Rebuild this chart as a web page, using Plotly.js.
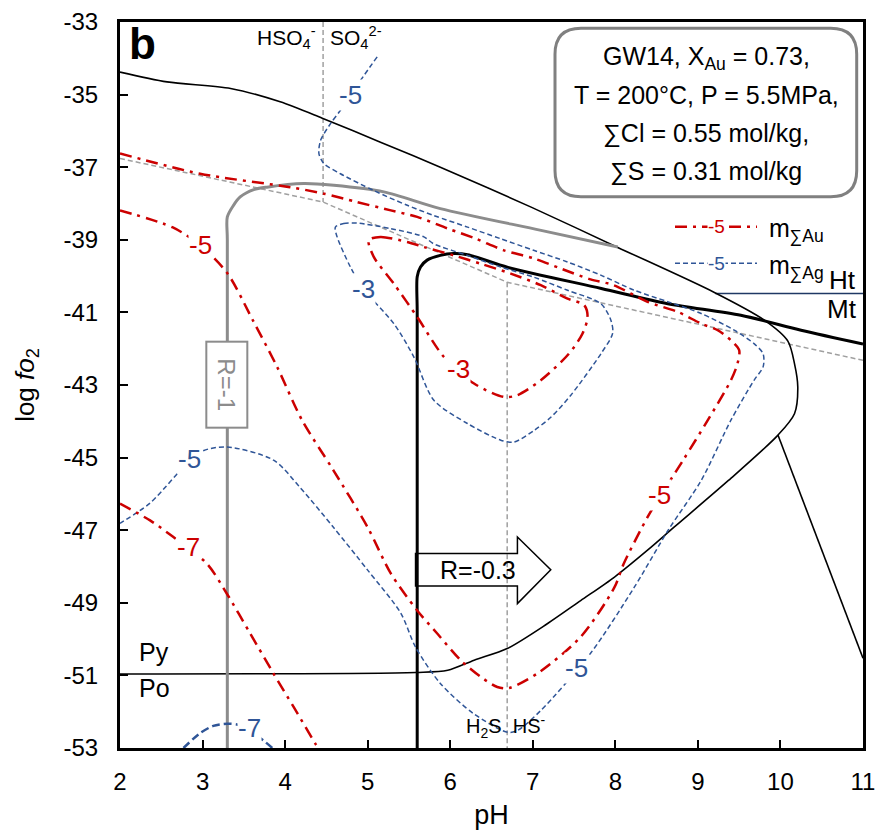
<!DOCTYPE html>
<html><head><meta charset="utf-8">
<script src="https://cdn.plot.ly/plotly-3.0.1.min.js"></script>
<style>html,body{margin:0;padding:0;background:#fff;}#chart{width:878px;height:837px;}</style>
</head><body><div id="chart"></div>
<script>
// ---- Sulfur-species boundaries (grey dashed)
const sulfBoundPH  = [2.0, 4.46, 6.69, 11.0];
const sulfBoundFO2 = [-36.76, -37.96, -40.17, -42.32];
const hso4PH  = [4.46, 4.46];
const hso4FO2 = [-33, -37.96];
const h2sPH   = [6.69, 6.69];
const h2sFO2  = [-40.17, -53];

// ---- Hematite / magnetite boundary
const htmtPH  = [9.21, 11.0];
const htmtFO2 = [-40.48, -40.48];

// ---- Mineral stability boundary (black thin, incl. Py/Po)
const minPH  = [2.0, 2.57, 3.34, 3.94, 4.45, 5.155, 5.88, 6.98, 8.03, 9.20, 9.81, 10.09, 10.17, 10.21, 10.17, 9.97, 9.37, 8.715, 8.39, 7.99, 7.58, 7.18, 6.69, 6.29, 5.97, 5.58, 2.0];
const minFO2 = [-34.38, -34.65, -34.83, -35.20, -35.65, -36.31, -37.00, -38.10, -39.21, -40.45, -41.22, -41.79, -42.41, -43.05, -43.79, -44.38, -45.63, -46.91, -47.55, -48.29, -48.94, -49.57, -50.26, -50.58, -50.86, -50.92, -50.96];
const min2PH  = [9.97, 11.0];
const min2FO2 = [-44.38, -50.53];

// ---- R = -1 (grey thick)
const r1PH  = [3.3, 3.3, 3.3, 3.375, 3.456, 3.62, 3.78, 4.225, 4.59, 5.195, 5.88, 7.10, 8.03];
const r1FO2 = [-53, -39.0, -38.37, -38.05, -37.82, -37.62, -37.55, -37.45, -37.50, -37.68, -38.14, -38.74, -39.20];

// ---- R = -0.3 (black thick)
const r03PH  = [5.60, 5.60, 5.60, 5.64, 5.72, 5.88, 6.04, 6.21, 6.70, 7.83, 8.635, 9.52, 10.25, 11.0];
const r03FO2 = [-53, -41.0, -40.02, -39.75, -39.56, -39.43, -39.38, -39.41, -39.76, -40.34, -40.76, -41.08, -41.49, -41.87];

// ---- log m(ΣAu) contours (red dash-dot)
const au5PH  = [2.0, 2.97, 4.06, 4.47, 4.87, 5.28, 5.60, 5.97, 6.31, 6.65, 7.01, 7.36, 7.70, 7.98, 8.39, 8.76, 9.04, 9.24, 9.40, 9.50, 9.48, 9.40, 9.12, 8.83, 8.55, 8.39, 8.10, 7.99, 7.58, 7.06, 6.71, 6.57, 6.37, 6.13, 5.84, 5.60, 5.28, 5.00, 4.585, 4.205, 3.905, 3.61, 3.30, 2.97, 2.64, 2.0];
const au5FO2 = [-36.62, -37.18, -37.55, -37.73, -37.96, -38.19, -38.37, -38.69, -38.97, -39.29, -39.51, -39.81, -40.09, -40.25, -40.71, -40.99, -41.31, -41.49, -41.77, -42.04, -42.41, -42.87, -43.97, -45.04, -46.04, -46.64, -47.93, -48.57, -49.94, -50.94, -51.35, -51.32, -51.04, -50.59, -49.84, -49.21, -48.19, -46.92, -45.35, -43.97, -42.51, -41.22, -39.92, -39.15, -38.66, -38.19];
const au3PH  = [5.013, 5.155, 5.479, 5.681, 6.045, 6.369, 6.733, 7.097, 7.421, 7.623, 7.664, 7.603, 7.437, 7.097, 6.814, 6.652, 6.288, 5.924, 5.601, 5.317, 5.074, 5.013];
const au3FO2 = [-39.01, -38.92, -39.06, -39.20, -39.43, -39.66, -39.93, -40.25, -40.62, -40.80, -41.13, -41.58, -42.14, -42.87, -43.28, -43.33, -42.96, -42.23, -41.13, -40.21, -39.47, -39.01];
const au7PH  = [2.0, 2.364, 2.647, 3.052, 3.295, 3.578, 3.86, 4.103, 4.366, 4.40];
const au7FO2 = [-46.27, -46.73, -47.19, -47.92, -48.75, -49.85, -50.95, -51.87, -52.88, -53.0];

// ---- log m(ΣAg) contours (blue dashed)
const ag5PH  = [5.115, 4.83, 4.67, 4.55, 4.43, 4.41, 4.47, 4.67, 5.07, 5.48, 5.80, 6.21, 6.61, 7.01, 7.42, 7.83, 8.23, 8.64, 9.04, 9.44, 9.68, 9.79, 9.79, 9.68, 9.40, 9.04, 8.64, 8.23, 7.70, 7.10, 6.82, 6.70, 6.28, 5.88, 5.58, 5.40, 5.00, 4.585, 4.18, 3.86, 3.30, 2.97, 2.36, 2.0];
const ag5FO2 = [-33.96, -34.88, -35.43, -35.80, -36.26, -36.63, -36.90, -37.18, -37.64, -38.05, -38.33, -38.65, -38.97, -39.29, -39.61, -39.98, -40.39, -40.71, -41.03, -41.49, -41.86, -42.14, -42.50, -42.87, -43.97, -45.63, -47.00, -48.57, -50.39, -51.96, -52.51, -52.57, -52.05, -51.22, -50.22, -49.28, -48.10, -46.92, -45.82, -45.07, -44.71, -44.85, -46.26, -46.81];
const ag3PH  = [4.609, 4.710, 4.873, 5.277, 5.681, 5.799, 6.208, 6.612, 7.012, 7.421, 7.825, 7.947, 7.967, 7.825, 7.461, 7.218, 7.016, 6.773, 6.612, 6.208, 5.802, 5.56, 5.317, 4.949, 4.791, 4.63, 4.609];
const ag3FO2 = [-38.65, -38.55, -38.54, -38.69, -38.92, -39.11, -39.43, -39.75, -40.03, -40.39, -40.76, -41.22, -41.58, -42.14, -43.28, -43.89, -44.25, -44.57, -44.52, -44.06, -43.42, -42.23, -41.31, -40.36, -39.75, -38.92, -38.65];
const ag7PH  = [2.769, 2.971, 3.13, 3.299, 3.45, 3.735, 3.845];
const ag7FO2 = [-53.0, -52.59, -52.39, -52.33, -52.37, -52.79, -53.0];

// ---- contour labels
const labelText = ['-5', '-5', '-3', '-7', '-5', '-5', '-5', '-3', '-7'];
const labelPH   = [2.97, 8.54, 6.10, 2.83, 4.79, 2.84, 7.53, 4.95, 3.57];
const labelFO2  = [-39.15, -46.04, -42.57, -47.47, -35.02, -45.05, -50.80, -40.36, -52.45];
const labelSet  = ['Au', 'Au', 'Au', 'Au', 'Ag', 'Ag', 'Ag', 'Ag', 'Ag'];

const xTicks = [2, 3, 4, 5, 6, 7, 8, 9, 10, 11];
const yTicks = [-53, -51, -49, -47, -45, -43, -41, -39, -37, -35, -33];

const F = 'Liberation Sans, Arial, sans-serif';
const RED = '#cc0000', BLUE = '#2f5597', GREY = '#8c8c8c', GDASH = '#a0a0a0';
const redDash = '12px,6px,3px,6px';
const blueDash = '5px,3px';

function tr(x, y, color, width, dash, spline) {
  return {x: x, y: y, type: 'scatter', mode: 'lines', hoverinfo: 'skip', showlegend: false,
    line: {color: color, width: width, dash: dash || 'solid', shape: spline ? 'spline' : 'linear', smoothing: 0.8}};
}

const data = [
  tr(sulfBoundPH, sulfBoundFO2, GDASH, 1.5, blueDash, false),
  tr(hso4PH, hso4FO2, GDASH, 1.5, blueDash, false),
  tr(h2sPH, h2sFO2, GDASH, 1.5, blueDash, false),
  tr(htmtPH, htmtFO2, '#1f3864', 1.5, 'solid', false),
  tr(minPH, minFO2, '#000', 1.6, 'solid', true),
  tr(min2PH, min2FO2, '#000', 1.6, 'solid', false),
  tr(r1PH, r1FO2, GREY, 3, 'solid', true),
  tr(r03PH, r03FO2, '#000', 3, 'solid', true),
  tr(ag5PH, ag5FO2, BLUE, 1.5, blueDash, true),
  tr(ag3PH, ag3FO2, BLUE, 1.5, blueDash, true),
  tr(ag7PH, ag7FO2, BLUE, 2.5, '8px,4px', true),
  tr(au5PH, au5FO2, RED, 2.5, redDash, true),
  tr(au3PH, au3FO2, RED, 2.5, redDash, true),
  tr(au7PH, au7FO2, RED, 2.5, redDash, true)
];

// pixel helpers for layout-only decorations (paper coords)
const PL = 120, PR = 863, PT = 22, PB = 748;
const px = v => (v - PL) / (PR - PL);
const py = v => (PB - v) / (PB - PT);

const annotations = [];
for (let i = 0; i < labelText.length; i++) {
  annotations.push({x: labelPH[i], y: labelFO2[i], xref: 'x', yref: 'y', text: labelText[i], showarrow: false,
    xanchor: 'center', yanchor: 'middle',
    font: {family: F, size: 26, color: labelSet[i] === 'Au' ? RED : BLUE}, bgcolor: '#fff', borderpad: 0});
}
function txt(text, x, y, size, opts) {
  return Object.assign({x: x, y: y, xref: 'x', yref: 'y', text: text, showarrow: false,
    xanchor: 'center', yanchor: 'middle',
    font: {family: F, size: size, color: '#000'}}, opts || {});
}
function ptxt(text, x, y, size, opts) {
  return Object.assign({x: px(x), y: py(y), xref: 'paper', yref: 'paper', text: text, showarrow: false,
    xanchor: 'center', yanchor: 'middle',
    font: {family: F, size: size, color: '#000'}}, opts || {});
}
const NB = '\u00a0';
annotations.push(
  txt('HSO<sub>4</sub><sup>-</sup>', 4.40, -33.42, 21, {xanchor: 'right'}),
  txt('SO<sub>4</sub><sup>2-</sup>', 4.52, -33.42, 21, {xanchor: 'left'}),
  txt('H<sub>2</sub>S' + NB + NB + 'HS<sup>-</sup>', 6.67, -52.42, 20),
  txt('Ht', 10.75, -40.12, 26),
  txt('Mt', 10.74, -40.90, 26),
  txt('Py', 2.41, -50.36, 25),
  txt('Po', 2.42, -51.36, 25),
  txt('R=-0.3', 6.34, -48.09, 25),
  {x: 3.3, y: -43.0, xref: 'x', yref: 'y', text: 'R=-1', showarrow: false, textangle: 90,
   xanchor: 'center', yanchor: 'middle',
   font: {family: F, size: 24, color: GREY}, bgcolor: '#fff', bordercolor: GREY, borderwidth: 2,
   borderpad: 2, width: 80, height: 35},
  ptxt('<b>b</b>', 142, 44, 44),
  // info box
  ptxt('GW14, X<sub>Au</sub> = 0.73,', 706, 58, 25),
  ptxt('T = 200°C, P = 5.5MPa,', 706, 95, 25),
  ptxt('∑Cl = 0.55 mol/kg,', 706, 133.3, 25),
  ptxt('∑S = 0.31 mol/kg', 706, 171.7, 25),
  // legend
  ptxt('-5', 716, 226.7, 19, {bgcolor: '#fff', borderpad: 0, font: {family: F, size: 19, color: RED}}),
  ptxt('-5', 716, 263.3, 19, {bgcolor: '#fff', borderpad: 0, font: {family: F, size: 19, color: BLUE}}),
  ptxt('m<sub>∑Au</sub>', 767, 230, 25, {xanchor: 'left'}),
  ptxt('m<sub>∑Ag</sub>', 767, 266.5, 25, {xanchor: 'left'})
);

// rounded info box in paper coords
const bx0 = px(555), bx1 = px(856.7), byT = py(28.3), byB = py(196.7);
const rx = 26 / (PR - PL), ry = 26 / (PB - PT);
const boxPath = `M${bx0 + rx},${byT} L${bx1 - rx},${byT} Q${bx1},${byT} ${bx1},${byT - ry} L${bx1},${byB + ry} Q${bx1},${byB} ${bx1 - rx},${byB} L${bx0 + rx},${byB} Q${bx0},${byB} ${bx0},${byB + ry} L${bx0},${byT - ry} Q${bx0},${byT} ${bx0 + rx},${byT} Z`;

// arrow for R=-0.3 (data coords)
const aL = 5.58, aR = 6.814, aTip = 7.218, aTop = -47.645, aBot = -48.537, hTop = -47.187, hBot = -49.022, aMid = -48.09;
const arrowPath = `M${aL},${aTop} L${aR},${aTop} L${aR},${hTop} L${aTip},${aMid} L${aR},${hBot} L${aR},${aBot} L${aL},${aBot} Z`;

const shapes = [
  {type: 'path', xref: 'paper', yref: 'paper', path: boxPath, line: {color: '#808080', width: 3}, fillcolor: 'rgba(0,0,0,0)'},
  {type: 'path', xref: 'x', yref: 'y', path: arrowPath, line: {color: '#000', width: 1.5}, fillcolor: 'rgba(0,0,0,0)'},
  {type: 'line', xref: 'paper', yref: 'paper', x0: px(675), x1: px(757), y0: py(226.7), y1: py(226.7), line: {color: RED, width: 2.5, dash: redDash}, layer: 'below'},
  {type: 'line', xref: 'paper', yref: 'paper', x0: px(675), x1: px(757), y0: py(263.3), y1: py(263.3), line: {color: BLUE, width: 1.5, dash: blueDash}, layer: 'below'}
];

const layout = {
  width: 878, height: 837,
  margin: {l: PL, r: 878 - PR, t: PT, b: 837 - PB},
  paper_bgcolor: '#fff', plot_bgcolor: '#fff',
  showlegend: false,
  font: {family: F, color: '#000'},
  xaxis: {range: [2, 11], tickmode: 'array', tickvals: xTicks, ticktext: xTicks.map(String),
    ticks: 'inside', ticklen: 8, tickwidth: 2, tickcolor: '#000',
    showline: true, linecolor: '#000', linewidth: 3, mirror: true, showgrid: false, zeroline: false,
    tickfont: {family: F, size: 24, color: '#000'}, ticklabelstandoff: 10,
    title: {text: 'pH', font: {family: F, size: 27, color: '#000'}, standoff: 12}},
  yaxis: {range: [-53, -33], tickmode: 'array', tickvals: yTicks, ticktext: yTicks.map(String),
    ticks: 'inside', ticklen: 8, tickwidth: 2, tickcolor: '#000',
    showline: true, linecolor: '#000', linewidth: 3, mirror: true, showgrid: false, zeroline: false,
    tickfont: {family: F, size: 24, color: '#000'}, ticklabelstandoff: 14,
    title: {text: 'log <i>fo</i><sub>2</sub>', font: {family: F, size: 26, color: '#000'}, standoff: 22}},
  annotations: annotations,
  shapes: shapes
};

Plotly.newPlot('chart', data, layout, {displayModeBar: false, staticPlot: true});
</script></body></html>
